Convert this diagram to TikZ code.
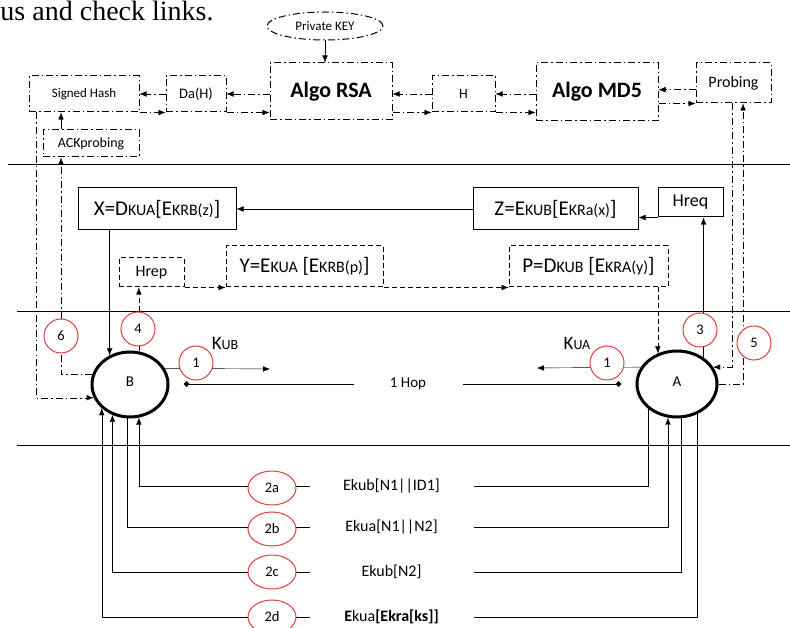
\documentclass[tikz,border=0pt]{standalone}
\usepackage{fontspec}
\setmainfont{Carlito}
\newfontfamily\timesfont{Liberation Serif}
\usepackage{tikz}
\usetikzlibrary{shapes,arrows.meta,positioning,backgrounds}
\definecolor{markred}{RGB}{222,62,62}
% small-caps look of the key names
\newcommand{\sm}[1]{{\fontsize{16}{18}\selectfont #1}}
\newcommand{\smk}[1]{{\fontsize{14}{16}\selectfont #1}}

\begin{document}
\begin{tikzpicture}[
    x=1pt, y=-1pt,
    line width=1pt,
    >={Latex[length=7pt,width=5.5pt]},
    chain/.style={dash pattern=on 7pt off 3pt on 1.5pt off 3pt},
    dsh/.style={dash pattern=on 5pt off 3pt},
    hashbox/.style={draw, chain, inner sep=0pt, font=\fontsize{13}{15}\selectfont},
    algobox/.style={hashbox, minimum width=122pt, minimum height=57pt, font=\bfseries\fontsize{22}{24}\selectfont},
    msgbox/.style={draw, inner sep=0pt, font=\fontsize{21}{23}\selectfont},
    reqbox/.style={draw, dsh, inner sep=0pt, font=\fontsize{21}{23}\selectfont},
    peer/.style={draw, ellipse, line width=3pt, inner sep=0pt, font=\fontsize{15}{17}\selectfont},
    num/.style={draw=markred, circle, fill=white, minimum size=34pt, inner sep=0pt, font=\fontsize{14.5}{16}\selectfont},
    numoval/.style={draw=markred, ellipse, fill=white, minimum width=48pt, minimum height=34pt, inner sep=0pt, font=\fontsize{14.5}{16}\selectfont},
    msgtext/.style={minimum width=163pt, inner sep=0pt, font=\fontsize{16}{18}\selectfont}
]
    \useasboundingbox (0,0) rectangle (790,628);
    \node[anchor=base west, inner sep=0pt, font=\timesfont\fontsize{28}{30}\selectfont] (caption) at (0,20.5) {us and check links.};

    % hashing / signing row
    \node[hashbox, ellipse, minimum width=116pt, minimum height=28pt] (key) at (325,26) {Private KEY};
    \node[algobox] (rsa) at (331,91.5) {Algo RSA};
    \node[algobox, minimum height=58pt] (md5) at (597,92) {Algo MD5};
    \node[hashbox, minimum width=110pt, minimum height=36pt] (sig) at (84,94) {Signed Hash};
    \node[hashbox, minimum width=60pt, minimum height=36pt, font=\fontsize{14.5}{16}\selectfont] (dah) at (196,94) {Da(H)};
    \node[hashbox, minimum width=63pt, minimum height=36pt, font=\fontsize{14}{16}\selectfont] (hash) at (463.5,94) {H};
    \node[hashbox, minimum width=75pt, minimum height=40pt, font=\fontsize{16}{18}\selectfont] (probe) at (733.5,83) {Probing};
    \node[hashbox, minimum width=96pt, minimum height=27pt, font=\fontsize{14}{16}\selectfont] (ack) at (91,143.5) {ACKprobing};
    \coordinate (sigcorner) at ([xshift=8pt]sig.south west);

    % request / reply messages
    \node[msgbox, minimum width=158pt, minimum height=42pt] (xmsg) at (157,209) {X=D\sm{KUA}[E\sm{KRB(z)}]};
    \node[msgbox, minimum width=165pt, minimum height=42pt] (zmsg) at (555.5,209) {Z=E\sm{KUB}[E\sm{KRa(x)}]};
    \node[msgbox, minimum width=65pt, minimum height=29pt, font=\fontsize{18}{20}\selectfont] (hreq) at (690.5,202.5) {Hreq};
    \node[reqbox, minimum width=65pt, minimum height=29pt, font=\fontsize{16}{18}\selectfont] (hrep) at (151.5,272.5) {Hrep};
    \node[reqbox, minimum width=157pt, minimum height=41pt] (ymsg) at (304.5,266.5) {Y=E\sm{KUA} [E\sm{KRB(p)}]};
    \node[reqbox, minimum width=159pt, minimum height=41pt] (pmsg) at (588.5,266.5) {P=D\sm{KUB} [E\sm{KRA(y)}]};

    % the two peers
    \node[peer, minimum width=76pt, minimum height=65pt] (nodeB) at (130,384.5) {\raisebox{5pt}{B}};
    \node[peer, minimum width=80pt, minimum height=66pt] (nodeA) at (677,384) {\raisebox{5pt}{A}};
    \node[inner sep=0pt, font=\fontsize{19}{21}\selectfont] (kub) at (225,343) {K\smk{UB}};
    \node[inner sep=0pt, font=\fontsize{19}{21}\selectfont] (kua) at (577,343) {K\smk{UA}};
    \node[inner sep=0pt, minimum width=108pt, font=\fontsize{15}{17}\selectfont] (hop) at (408,384) {1 Hop};
    \coordinate (kubend) at (270,369);
    \coordinate (kuaend) at (537,368);

    \node[num] (n1b) at (196,363) {1};
    \node[num] (n1a) at (607,363) {1};
    \node[num] (n3) at (700,330) {3};
    \node[num] (n4) at (138,329) {4};
    \node[num] (n5) at (754,343) {5};
    \node[num] (n6) at (61,336) {6};

    % nonce exchange
    \node[msgtext] (m2a) at (391.5,486) {Ekub[N1||ID1]};
    \node[msgtext] (m2b) at (391.5,527) {Ekua[N1||N2]};
    \node[msgtext] (m2c) at (391.5,572) {Ekub[N2]};
    \node[msgtext] (m2d) at (391.5,617) {\textbf{E}kua\textbf{[Ekra[ks]]}};
    \node[numoval] (s2a) at (272,488) {2a};
    \node[numoval] (s2b) at (272,529) {2b};
    \node[numoval] (s2c) at (272,572) {2c};
    \node[numoval] (s2d) at (272,617) {2d};

    \begin{scope}[on background layer]
        \draw (8,164) -- (790,164);
        \draw (17,311) -- (790,311);
        \draw (17,445) -- (790,445);

        \draw[->] (key) -- (key |- rsa.north);
        \draw[chain,->] (md5.west |- hash.east) -- (hash.east);
        \draw[chain,->] (hash.west) -- (rsa.east |- hash.west);
        \draw[chain,->] (rsa.west |- dah.east) -- (dah.east);
        \draw[chain,->] (dah.west) -- (sig.east |- dah.west);
        \draw[chain,->] (sig.south east) -- (dah.south west);
        \draw[chain,->] (dah.south east) -- (rsa.west |- dah.south);
        \draw[chain,->] (rsa.east |- hash.south) -- (hash.south west);
        \draw[chain,->] (hash.south east) -- (md5.west |- hash.south);
        \draw[chain,->] (probe.190) -- (md5.east |- probe.190);
        \draw[chain,->] (md5.east |- probe.south west) -- (probe.south west);
        \draw[->] (n6 |- ack.north) -- (n6 |- sig.south);
        \draw[chain,->] (nodeB.165) -| (n6 |- ack.south);
        \draw[chain,->] (sigcorner) |- (nodeB.200);

        \draw[->] (zmsg.west) -- (xmsg.east);
        \draw[->] (hreq.south west) -- (zmsg.east |- hreq.south west);
        \draw[->] (nodeA.45) -- (nodeA.45 |- hreq.south);
        \draw[->] (xmsg.south -| nodeB.125) -- (nodeB.125);
        \draw[dsh,->] (nodeB.75) -- (nodeB.75 |- hrep.south);
        \draw[dsh,->] (hrep.south east) -- (ymsg.south west);
        \draw[dsh,->] (ymsg.south east) -- (pmsg.south west);
        \draw[dsh,->] (pmsg.south -| nodeA.122) -- (nodeA.122);
        \draw[chain,->] (nodeA.east) -| (probe.-65);
        \draw[chain,->] (probe.-95) |- (nodeA.25);

        \draw[->] (nodeB.25) -- (kubend);
        \draw[->] (nodeA.155) -- (kuaend);
        \draw[-{Diamond[length=6pt,width=6pt]}, shorten >=14pt] (hop.west) -- (nodeB.east |- hop.west);
        \draw[-{Diamond[length=6pt,width=6pt]}, shorten >=14pt] (hop.east) -- (nodeA.west |- hop.east);

        \draw (nodeA.-140) |- (m2a.east);
        \draw[->] (m2a.west) -| (nodeB.-75);
        \draw (nodeB.-95) |- (m2b.west);
        \draw[->] (m2b.east) -| (nodeA.-105);
        \draw (nodeA.-83) |- (m2c.east);
        \draw[->] (m2c.west) -| (nodeB.-120);
        \draw (nodeA.-57) |- (m2d.east);
        \draw[->] (m2d.west) -| (nodeB.-140);
    \end{scope}
\end{tikzpicture}
\end{document}
